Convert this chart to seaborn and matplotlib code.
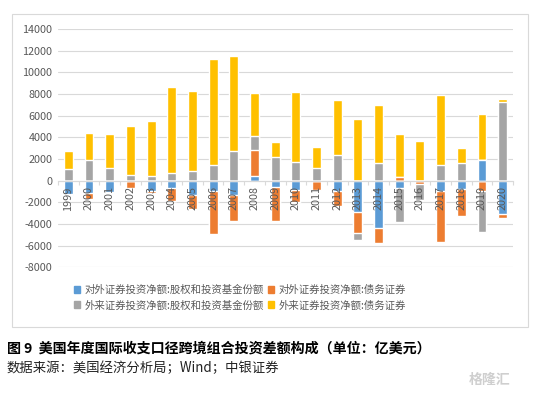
import numpy as np
import pandas as pd
import matplotlib
matplotlib.use("Agg")
import matplotlib.pyplot as plt
from matplotlib.patches import Patch, Rectangle
import seaborn as sns

# values (亿美元)
years = [str(y) for y in range(1999, 2021)]
series_names = [
    "对外证券投资净额:股权和投资基金份额",
    "对外证券投资净额:债务证券",
    "外来证券投资净额:股权和投资基金份额",
    "外来证券投资净额:债务证券",
]
outward_equity = [-1200, -1100, -1050, 0, -1000, -700, -1350, -1000, -1300, 460, -550,
                  -850, 0, -1000, -2850, -4350, -700, 0, -1000, -750, 1930, -3050]
outward_debt = [-150, -600, -100, -700, -150, -1200, -1300, -3900, -2450, 2400, -3200,
                -1150, -850, -1300, -1950, -1450, 370, -350, -4700, -2550, -1000, -400]
inward_equity = [1075, 1930, 1200, 550, 400, 675, 890, 1410, 2760, 1290, 2210,
                 1750, 1200, 2400, -650, 1600, -3100, -1400, 1475, 1600, -3700, 7280]
inward_debt = [1690, 2490, 3130, 4515, 5126, 7980, 7430, 9826, 8750, 3960, 1380,
               6450, 1930, 5060, 5710, 5400, 3960, 3685, 6445, 1440, 4240, 270]

colors = ["#5B9BD5", "#ED7D31", "#A5A5A5", "#FFC000"]
W, H = 533, 394

sns.set_theme(style="white")
plt.rcParams["font.family"] = ["Noto Sans CJK SC", "DejaVu Sans"]
plt.rcParams["axes.unicode_minus"] = False

fig = plt.figure(figsize=(W / 100, H / 100), dpi=100)
ax = fig.add_axes([58 / W, 1 - 267.3 / H, 455 / W, (267.3 - 29) / H])

# stacked bars: draw cumulative heights from the outermost series inwards
values = np.array([outward_equity, outward_debt, inward_equity, inward_debt], dtype=float)
pos_cum = np.cumsum(np.clip(values, 0, None), axis=0)
neg_cum = np.cumsum(np.clip(values, None, 0), axis=0)

for k in range(3, -1, -1):
    df = pd.DataFrame({"year": years, "pos": pos_cum[k], "neg": neg_cum[k]})
    for col in ["pos", "neg"]:
        sns.barplot(data=df, x="year", y=col, order=years, color=colors[k],
                    saturation=1, width=0.43, ax=ax)

yticks = list(range(-8000, 14001, 2000))
ax.set_xlim(-0.5, len(years) - 0.5)
ax.set_ylim(-8000, 14000)
ax.set_yticks(yticks)
ax.set_xlabel("")
ax.set_ylabel("")
ax.grid(False)
# gridlines behind the bars, tick labels in front of them
for t in yticks:
    ax.axhline(t, color="#D9D9D9", lw=0.8, zorder=0)
ax.set_axisbelow(False)

for s in ["top", "right", "left"]:
    ax.spines[s].set_visible(False)
ax.spines["bottom"].set_position(("data", 0))
ax.spines["bottom"].set_color("#D9D9D9")
ax.spines["bottom"].set_linewidth(0.8)

ax.set_xticks(range(len(years)))
ax.set_xticklabels(years, rotation=90)
ax.set_xticks(np.arange(-0.5, len(years), 1), minor=True)
ax.tick_params(axis="x", which="major", length=0, pad=4, labelsize=7.8, labelcolor="#595959")
ax.tick_params(axis="x", which="minor", length=3, color="#D9D9D9", width=0.8, bottom=True)
ax.tick_params(axis="y", length=0, pad=4, labelsize=7.8, labelcolor="#595959")

# legend
handles = [Patch(color=c) for c in colors]
order = [0, 2, 1, 3]
fig.legend([handles[i] for i in order], [series_names[i] for i in order],
           ncol=2, loc="upper left", bbox_to_anchor=(74 / W, 1 - 285 / H),
           frameon=False, fontsize=7.5, handlelength=0.6, handleheight=0.6,
           handletextpad=0.4, columnspacing=0.4, labelspacing=0.5,
           borderpad=0, borderaxespad=0, labelcolor="#595959")

# chart frame
fig.patches.append(Rectangle((12 / W, 1 - 327 / H), (528 - 12) / W, (327 - 14) / H,
                             transform=fig.transFigure, fill=False, ec="#D9D9D9", lw=0.8))

fig.text(7 / W, 1 - 348 / H, "图 9  美国年度国际收支口径跨境组合投资差额构成（单位：亿美元）",
         fontsize=10.1, fontweight="bold", va="center", ha="left", color="black")
fig.text(7 / W, 1 - 368 / H, "数据来源：美国经济分析局；Wind；中银证券",
         fontsize=9.6, va="center", ha="left", color="#222222")
fig.text(490 / W, 1 - 380 / H, "格隆汇", fontsize=10, va="center", ha="center",
         color="#CFCFCF", fontweight="bold")

fig.savefig("out.png", dpi=100)
